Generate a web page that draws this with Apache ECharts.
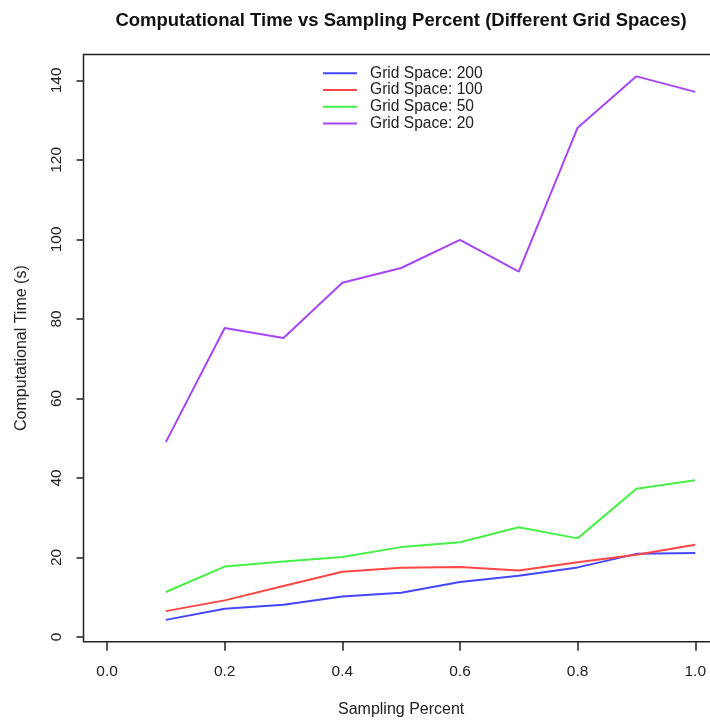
<!DOCTYPE html>
<html lang="en">
<head>
    <meta charset="UTF-8">
    <title>Computational Time vs Sampling Percent</title>
    <style>
        html, body { margin: 0; padding: 0; background: #fff; }
        #chart { width: 710px; height: 720px; }
    </style>
</head>
<body>
    <div id="chart"></div>
    <script src="https://cdn.jsdelivr.net/npm/echarts@6/dist/echarts.min.js"></script>
    <script>
        // sampling percent (x)
        var samplingPercent = [0.1, 0.2, 0.3, 0.4, 0.5, 0.6, 0.7, 0.8, 0.9, 1.0];

        // computational time (s) for each grid space
        var grid200 = [4.3, 7.1, 8.1, 10.2, 11.1, 13.8, 15.4, 17.5, 20.9, 21.1];
        var grid100 = [6.5, 9.2, 12.8, 16.4, 17.4, 17.6, 16.7, 18.8, 20.7, 23.2];
        var grid50 = [11.3, 17.7, 19.0, 20.1, 22.6, 23.8, 27.6, 24.8, 37.3, 39.4];
        var grid20 = [49.0, 77.7, 75.2, 89.1, 92.8, 99.9, 91.9, 128.1, 141.0, 137.1];

        var seriesNames = ['Grid Space: 200', 'Grid Space: 100', 'Grid Space: 50', 'Grid Space: 20'];
        var seriesColors = ['#4646ff', '#ff4646', '#46f046', '#a646f5'];

        // tick labels
        var xTicks = [0.0, 0.2, 0.4, 0.6, 0.8, 1.0];
        var yTicks = [0, 20, 40, 60, 80, 100, 120, 140];

        var font = '"Liberation Sans", Arial, Helvetica, sans-serif';

        function pairs(ys) {
            var res = [];
            for (var i = 0; i < samplingPercent.length; i++) {
                res.push([samplingPercent[i], ys[i]]);
            }
            return res;
        }

        var allValues = [grid200, grid100, grid50, grid20];
        var series = [];
        for (var k = 0; k < allValues.length; k++) {
            series.push({
                name: seriesNames[k],
                type: 'line',
                data: pairs(allValues[k]),
                symbol: 'none',
                showSymbol: false,
                lineStyle: { color: seriesColors[k], width: 2 },
                itemStyle: { color: seriesColors[k] },
                animation: false
            });
        }

        var myChart = echarts.init(document.getElementById('chart'));
        var option = {
            backgroundColor: '#fff',
            animation: false,
            title: {
                text: 'Computational Time vs Sampling Percent (Different Grid Spaces)',
                left: 396,
                top: 6,
                textAlign: 'center',
                textStyle: { fontFamily: font, fontSize: 18.5, fontWeight: 'bold', color: '#111' }
            },
            legend: {
                orient: 'vertical',
                left: 318,
                top: 60,
                icon: 'rect',
                itemWidth: 34,
                itemHeight: 2,
                itemGap: 0,
                data: seriesNames,
                textStyle: { fontFamily: font, fontSize: 15.6, color: '#222', lineHeight: 16.7, padding: [0, 0, 0, 8] }
            },
            grid: {
                left: 83.5,
                top: 54.5,
                right: -8.8,
                bottom: 78.3,
                outerBoundsMode: 'none',
                containLabel: false,
                show: true,
                borderColor: '#222',
                borderWidth: 1.5,
                backgroundColor: '#fff'
            },
            xAxis: {
                type: 'value',
                min: -0.04,
                max: 1.04,
                name: 'Sampling Percent',
                nameLocation: 'middle',
                nameGap: 60,
                nameTextStyle: { fontFamily: font, fontSize: 16, color: '#222' },
                axisLine: { show: false, onZero: false },
                splitLine: { show: false },
                axisTick: {
                    show: true, inside: false, length: 9, customValues: xTicks,
                    lineStyle: { color: '#222', width: 1.5 }
                },
                axisLabel: {
                    customValues: xTicks, margin: 22,
                    fontFamily: font, fontSize: 15.5, color: '#222',
                    formatter: function (v) { return v.toFixed(1); }
                }
            },
            yAxis: {
                type: 'value',
                min: -1.19,
                max: 146.5,
                name: 'Computational Time (s)',
                nameLocation: 'middle',
                nameGap: 54,
                nameTextStyle: { fontFamily: font, fontSize: 16, color: '#222' },
                axisLine: { show: false, onZero: false },
                splitLine: { show: false },
                axisTick: {
                    show: true, inside: false, length: 7, customValues: yTicks,
                    lineStyle: { color: '#222', width: 1.5 }
                },
                axisLabel: {
                    customValues: yTicks, rotate: 90, margin: 19,
                    fontFamily: font, fontSize: 15.5, color: '#222'
                }
            },
            series: series
        };
        myChart.setOption(option);
    </script>
</body>
</html>
